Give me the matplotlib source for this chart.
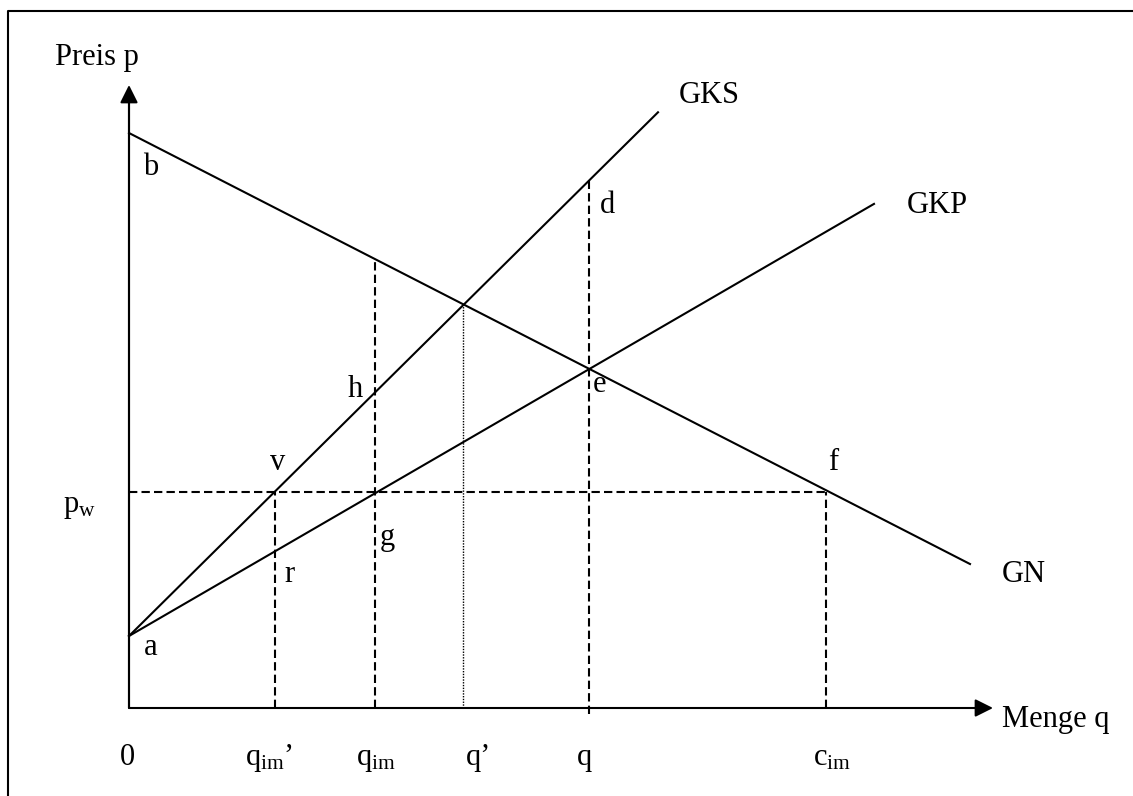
import matplotlib
matplotlib.use("Agg")
import matplotlib.pyplot as plt
import numpy as np

plt.rcParams['font.family'] = ['Liberation Serif', 'DejaVu Serif']
plt.rcParams['mathtext.fontset'] = 'custom'
plt.rcParams['mathtext.rm'] = 'Liberation Serif'
plt.rcParams['mathtext.it'] = 'Liberation Serif'

# ---- data (diagram units) ----
a_intercept = 7.2          # point a (cost curves start)
b_intercept = 57.5         # point b (demand intercept)
gn_slope = -0.5125         # GN (demand)
gks_slope = 0.99           # GKS (social marginal cost)
gkp_slope = 0.58           # GKP (private marginal cost)
gn_end_x = 84.1
gks_end_x = 52.9
gkp_end_x = 74.5
p_w = 21.6                 # world price
x_qim_prime = 14.6
x_qim = 24.6
x_qprime = 33.4
x_q = 46.0
x_cim = 69.7
x_axis_len = 86.4
y_axis_len = 62.3

tick_labels = ['0', r'$\mathrm{q}_{\mathrm{im}}$’', r'$\mathrm{q}_{\mathrm{im}}$', 'q’', 'q', r'$\mathrm{c}_{\mathrm{im}}$']
tick_label_x = [-0.9, 11.6, 22.7, 33.7, 44.8, 68.4]

point_labels = ['b', 'a', 'r', 'v', 'h', 'g', 'd', 'e', 'f']
point_label_xy = [(1.4, 53.3), (1.5, 5.3), (15.5, 12.6), (14.1, 23.8), (21.9, 31.1),
                  (25.1, 16.3), (47.1, 49.5), (46.4, 31.6), (69.9, 23.8)]

curve_labels = ['GKS', 'GKP', 'GN']
curve_label_xy = [(55.0, 60.5), (77.8, 49.5), (87.3, 12.6)]

def gn(x): return b_intercept + gn_slope * np.asarray(x)
def gks(x): return a_intercept + gks_slope * np.asarray(x)
def gkp(x): return a_intercept + gkp_slope * np.asarray(x)

fig = plt.figure(figsize=(11.33, 7.96), dpi=100)
ax = fig.add_axes([0, 0, 1, 1])
ax.set_xlim(-12.9, 100.4)
ax.set_ylim(-8.8, 70.8)
ax.axis('off')

lw = 1.5
fs = 22

# frame
ax.plot([-12.1, -12.1, 100.4], [-8.8, 69.7, 69.7], color='k', lw=1.5, clip_on=False)

# axes with arrows
ax.annotate('', xy=(0, y_axis_len), xytext=(0, 0),
            arrowprops=dict(arrowstyle='-|>,head_length=0.9,head_width=0.45',
                            mutation_scale=12, lw=lw, color='k', shrinkA=0, shrinkB=0))
ax.annotate('', xy=(x_axis_len, 0), xytext=(0, 0),
            arrowprops=dict(arrowstyle='-|>,head_length=0.9,head_width=0.45',
                            mutation_scale=12, lw=lw, color='k', shrinkA=0, shrinkB=0))
ax.plot([0, 0], [0, y_axis_len - 1], color='k', lw=lw, solid_capstyle='butt')

# curves
xs = np.array([0, gn_end_x]); ax.plot(xs, gn(xs), color='k', lw=lw)
xs = np.array([0, gks_end_x]); ax.plot(xs, gks(xs), color='k', lw=lw)
xs = np.array([0, gkp_end_x]); ax.plot(xs, gkp(xs), color='k', lw=lw)

dash = (0, (4, 2))
# world price line
ax.plot([0, x_cim], [p_w, p_w], color='k', lw=lw, ls=dash)
# verticals
ax.plot([x_qim_prime, x_qim_prime], [0, p_w], color='k', lw=lw, ls=dash)
ax.plot([x_qim, x_qim], [0, float(gn(x_qim))], color='k', lw=lw, ls=dash)
ax.plot([x_q, x_q], [-0.6, float(gks(x_q))], color='k', lw=lw, ls=dash)
ax.plot([x_cim, x_cim], [0, p_w], color='k', lw=lw, ls=dash)
ax.plot([x_qprime, x_qprime], [0, float(gn(x_qprime))], color='k', lw=1.0, ls=(0, (1, 1)))

# texts
ax.text(-7.4, 64.3, 'Preis p', fontsize=fs, ha='left', va='baseline')
ax.text(87.3, -1.9, 'Menge q', fontsize=fs, ha='left', va='baseline')
ax.text(-6.6, 19.6, r'$\mathrm{p}_{\mathrm{w}}$', fontsize=fs, ha='left', va='baseline')
for lab, x in zip(tick_labels, tick_label_x):
    ax.text(x, -5.7, lab, fontsize=fs, ha='left', va='baseline')
for lab, (x, y) in zip(point_labels, point_label_xy):
    ax.text(x, y, lab, fontsize=fs, ha='left', va='baseline')
for lab, (x, y) in zip(curve_labels, curve_label_xy):
    ax.text(x, y, lab, fontsize=fs, ha='left', va='baseline')

fig.savefig('out.png', dpi=100)
